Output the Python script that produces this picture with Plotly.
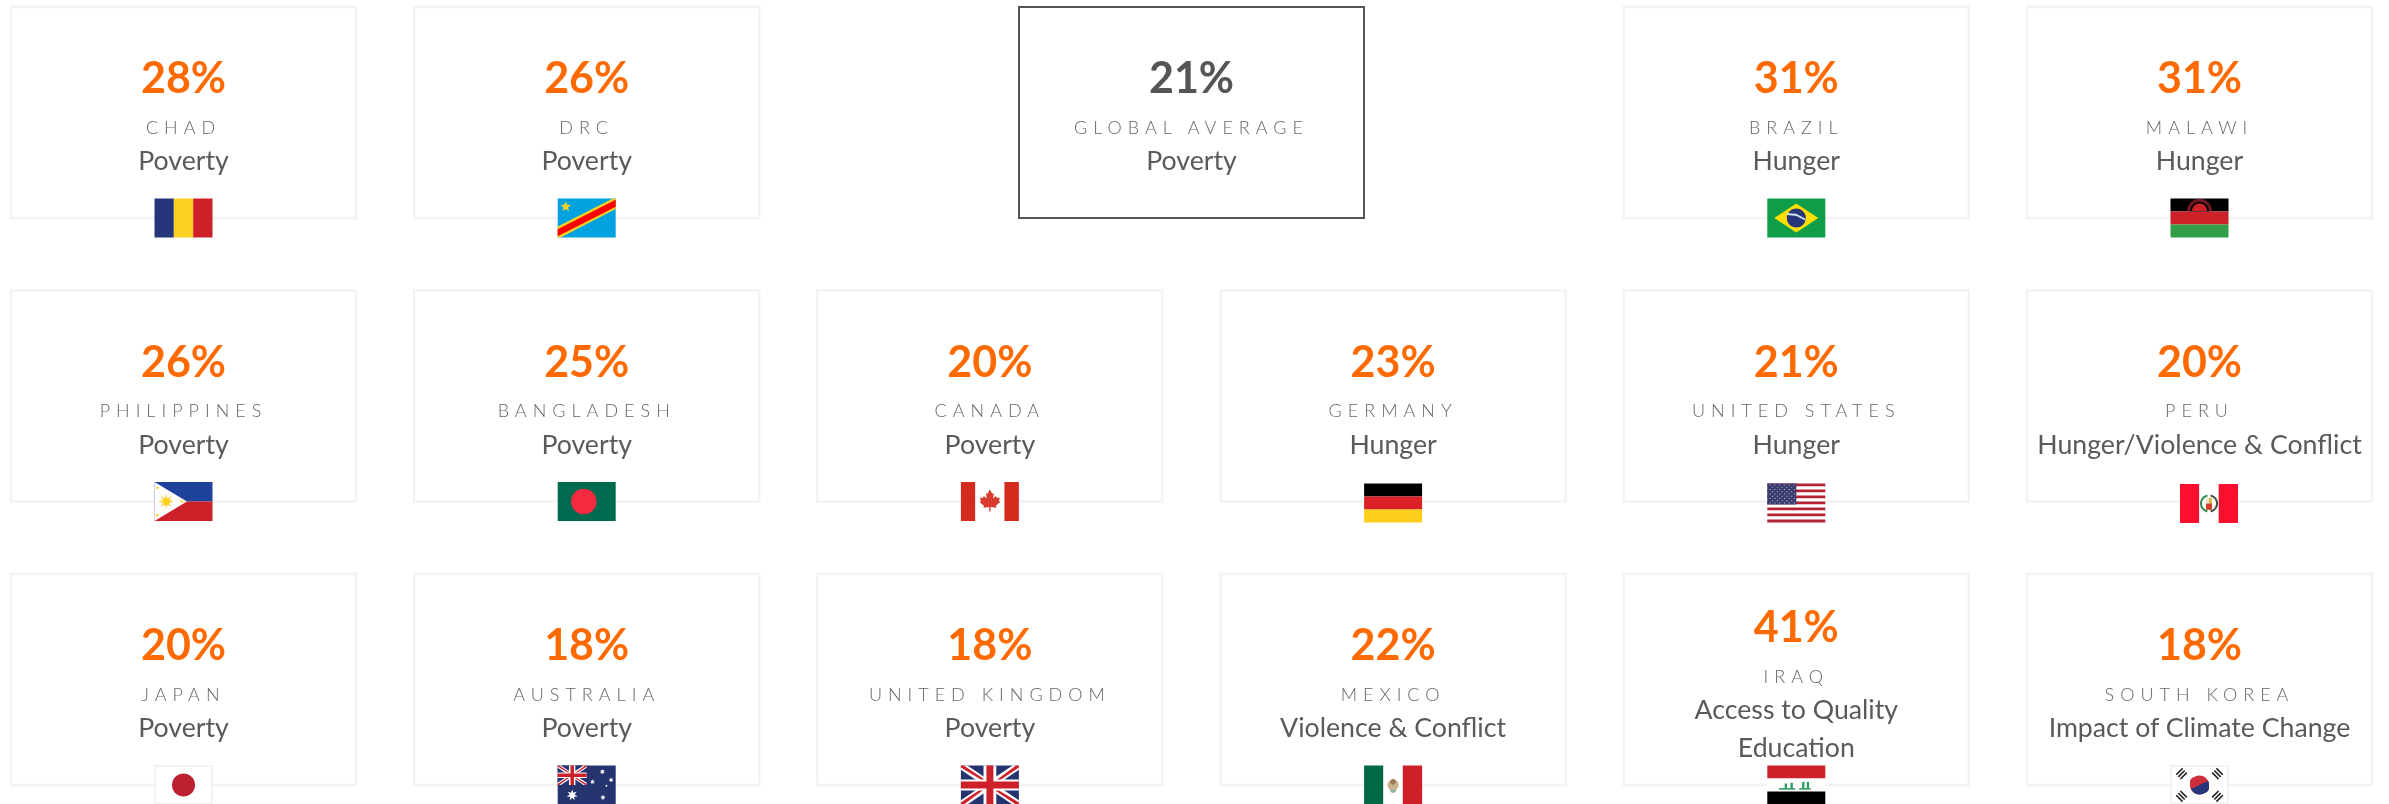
import math
import plotly.graph_objects as go

# ---------- data ----------
countries = ["CHAD", "DRC", "GLOBAL AVERAGE", "BRAZIL", "MALAWI",
             "PHILIPPINES", "BANGLADESH", "CANADA", "GERMANY", "UNITED STATES", "PERU",
             "JAPAN", "AUSTRALIA", "UNITED KINGDOM", "MEXICO", "IRAQ", "SOUTH KOREA"]
percents = [28, 26, 21, 31, 31,
            26, 25, 20, 23, 21, 20,
            20, 18, 18, 22, 41, 18]
causes = ["Poverty", "Poverty", "Poverty", "Hunger", "Hunger",
          "Poverty", "Poverty", "Poverty", "Hunger", "Hunger", "Hunger/Violence & Conflict",
          "Poverty", "Poverty", "Poverty", "Violence & Conflict",
          "Access to Quality|Education", "Impact of Climate Change"]
grid_cols = [0, 1, 2.5, 4, 5,
             0, 1, 2, 3, 4, 5,
             0, 1, 2, 3, 4, 5]
grid_rows = [0, 0, 0, 0, 0,
             1, 1, 1, 1, 1, 1,
             2, 2, 2, 2, 2, 2]

ORANGE = "#ff6a00"
DARK = "#555555"
CARD_W, CARD_H = 345, 211
COL_X, COL_STEP = 11, 403.2
ROW_Y, ROW_STEP = 7, 283.5


def left(c):
    return COL_X + c * COL_STEP


def top(r):
    return ROW_Y + r * ROW_STEP


shapes = []


def poly(pts, color, width=0):
    d = "M" + "L".join(f"{x:.2f},{y:.2f}" for x, y in pts) + "Z"
    shapes.append(dict(type="path", path=d, fillcolor=color, xref="x", yref="y",
                       line=dict(width=width, color=color), layer="above"))


class Flag:
    def __init__(self, cx, y0, w=58, h=39):
        self.x0, self.y0, self.w, self.h = cx - w / 2, y0, w, h

    def p(self, u, v):
        return (self.x0 + u * self.w, self.y0 + v * self.h)

    def rect(self, u0, v0, u1, v1, color):
        poly([self.p(u0, v0), self.p(u1, v0), self.p(u1, v1), self.p(u0, v1)], color)

    def pg(self, uv, color):
        poly([self.p(u, v) for u, v in uv], color)

    def disc(self, u, v, r, color, a0=0, a1=360, n=36):
        cx, cy = self.p(u, v)
        pts = [(cx + r * math.cos(math.radians(a0 + (a1 - a0) * i / n)),
                cy + r * math.sin(math.radians(a0 + (a1 - a0) * i / n))) for i in range(n + 1)]
        poly(pts, color)

    def star(self, u, v, r, color, n=5, inner=0.42, rot=-90):
        cx, cy = self.p(u, v)
        pts = []
        for i in range(2 * n):
            a = math.radians(rot + i * 180 / n)
            rr = r if i % 2 == 0 else r * inner
            pts.append((cx + rr * math.cos(a), cy + rr * math.sin(a)))
        poly(pts, color)

    def bars(self, colors):
        for i, c in enumerate(colors):
            self.rect(i / len(colors), 0, (i + 1) / len(colors), 1, c)

    def bands(self, colors):
        for i, c in enumerate(colors):
            self.rect(0, i / len(colors), 1, (i + 1) / len(colors), c)

    def frame(self, color="#ececec"):
        self.rect(0, 0, 1, 1, color)
        m = 1.2
        self.rect(m / self.w, m / self.h, 1 - m / self.w, 1 - m / self.h, "#ffffff")


def union_jack(f, u1=1.0, v1=1.0, navy="#25346f"):
    def P(a, b):
        return (a * u1, b * v1)
    f.rect(0, 0, u1, v1, navy)
    t = 0.11
    f.pg([P(0, 0), P(t, 0), P(1, 1 - t), P(1, 1), P(1 - t, 1), P(0, t)], "#ffffff")
    f.pg([P(1, 0), P(1, t), P(t, 1), P(0, 1), P(0, 1 - t), P(1 - t, 0)], "#ffffff")
    r = 0.05
    f.pg([P(0, 0), P(r, 0), P(0.5, 0.5 - r), P(0.5, 0.5), P(0, r)], "#ce2028")
    f.pg([P(1, 1), P(1 - r, 1), P(0.5, 0.5 + r), P(0.5, 0.5), P(1, 1 - r)], "#ce2028")
    f.pg([P(1, 0), P(1, r), P(0.5 + r, 0.5), P(0.5, 0.5), P(1 - r, 0)], "#ce2028")
    f.pg([P(0, 1), P(0, 1 - r), P(0.5 - r, 0.5), P(0.5, 0.5), P(r, 1)], "#ce2028")
    f.rect(0.39 * u1, 0, 0.61 * u1, v1, "#ffffff")
    f.rect(0, 0.36 * v1, u1, 0.64 * v1, "#ffffff")
    f.rect(0.44 * u1, 0, 0.56 * u1, v1, "#ce2028")
    f.rect(0, 0.41 * v1, u1, 0.59 * v1, "#ce2028")


def draw_chad(f):
    f.bars(["#27357a", "#fbd023", "#ce2028"])


def draw_drc(f):
    f.rect(0, 0, 1, 1, "#00a3e0")
    f.pg([(0, 0.72), (0.95, 0), (1, 0), (1, 0.27), (0.05, 1), (0, 1)], "#fbd023")
    f.pg([(0, 0.79), (1, 0.03), (1, 0.21), (0, 0.97)], "#ff0000")
    f.star(0.14, 0.21, 5.5, "#fbd023")


def draw_brazil(f):
    f.rect(0, 0, 1, 1, "#0f9d49")
    f.pg([(0.12, 0.5), (0.5, 0.13), (0.88, 0.5), (0.5, 0.87)], "#fedd00")
    f.disc(0.5, 0.5, 9.5, "#27357a")
    f.pg([(0.34, 0.37), (0.5, 0.39), (0.66, 0.52), (0.66, 0.57), (0.5, 0.45), (0.34, 0.42)], "#c8dce8")


def draw_malawi(f):
    f.bands(["#000000", "#ce2028", "#339e48"])
    f.disc(0.5, 0.33, 12.5, "#6e1a20", 180, 360)
    f.disc(0.5, 0.33, 9.5, "#000000", 180, 360)
    f.disc(0.5, 0.32, 7.5, "#ce2028", 180, 360)


def draw_philippines(f):
    f.rect(0, 0, 1, 0.5, "#1f429b")
    f.rect(0, 0.5, 1, 1, "#ce2028")
    f.pg([(0, 0), (0.56, 0.5), (0, 1)], "#ffffff")
    f.star(0.2, 0.5, 8, "#fdd663", n=8, inner=0.45)
    f.disc(0.2, 0.5, 3.6, "#fcd116")
    for u, v in [(0.05, 0.15), (0.05, 0.85), (0.47, 0.5)]:
        f.star(u, v, 2, "#fcd116")


def draw_bangladesh(f):
    f.rect(0, 0, 1, 1, "#006a4e")
    f.disc(0.45, 0.5, 12.8, "#f42a41")


def draw_canada(f):
    f.bars(["#d52b1e", "#ffffff", "#ffffff", "#d52b1e"])
    leaf = [(0, -12), (2.5, -7.5), (4, -8.5), (3.2, -3), (6, -5.5), (7, -3.5), (10, -4),
            (9, -0.5), (10.3, 0.5), (6, 4.3), (6.5, 6.3), (0.7, 5.5), (0.7, 10), (-0.7, 10),
            (-0.7, 5.5), (-6.5, 6.3), (-6, 4.3), (-10.3, 0.5), (-9, -0.5), (-10, -4), (-7, -3.5),
            (-6, -5.5), (-3.2, -3), (-4, -8.5), (-2.5, -7.5)]
    cx, cy = f.p(0.5, 0.5)
    poly([(cx + a, cy + b) for a, b in leaf], "#d83a2f")


def draw_germany(f):
    f.bands(["#000000", "#dd1f26", "#ffce1a"])


def draw_usa(f):
    for i in range(13):
        f.rect(0, i / 13, 1, (i + 1) / 13, "#b22234" if i % 2 == 0 else "#ffffff")
    f.rect(0, 0, 0.5, 7 / 13, "#3c3b6e")
    for r in range(9):
        for c in range(6 if r % 2 == 0 else 5):
            u = 0.04 + (c + (0 if r % 2 == 0 else 0.5)) * 0.083
            v = 0.03 + r * 0.057
            f.rect(u, v, u + 0.016, v + 0.024, "#cfd0e0")


def draw_peru(f):
    f.bars(["#fb0f2e", "#ffffff", "#fb0f2e"])
    f.disc(0.5, 0.5, 9, "#2f8a4a", 100, 260)
    f.disc(0.5, 0.5, 7, "#ffffff", 100, 260)
    f.disc(0.5, 0.5, 9, "#3b5a3a", -80, 80)
    f.disc(0.5, 0.5, 7, "#ffffff", -80, 80)
    f.rect(0.45, 0.36, 0.55, 0.66, "#e2b24a")
    f.rect(0.45, 0.5, 0.55, 0.66, "#d23a2a")
    f.rect(0.45, 0.36, 0.5, 0.5, "#e9e3d0")


def draw_japan(f):
    f.frame()
    f.disc(0.5, 0.5, 11.5, "#bc1f30")


def draw_australia(f):
    f.rect(0, 0, 1, 1, "#25346f")
    union_jack(f, 0.5, 0.5)
    f.star(0.25, 0.76, 5.6, "#ffffff", n=7, inner=0.45)
    for u, v, r in [(0.77, 0.16, 2.8), (0.6, 0.42, 2.6), (0.92, 0.37, 2.6), (0.84, 0.52, 1.4), (0.78, 0.82, 2.8)]:
        f.star(u, v, r, "#ffffff", n=7, inner=0.45)


def draw_uk(f):
    union_jack(f)


def draw_mexico(f):
    f.bars(["#006847", "#ffffff", "#ce2028"])
    f.disc(0.5, 0.5, 5.6, "#c9b48f")
    f.disc(0.5, 0.42, 2.8, "#9c7a55")
    f.disc(0.5, 0.62, 3.2, "#8fb8a4", 0, 180)


def draw_iraq(f):
    f.bands(["#ce2028", "#ffffff", "#000000"])
    for u0, u1, v0 in [(0.2, 0.48, 0.58), (0.55, 0.75, 0.58), (0.6, 0.64, 0.42), (0.68, 0.72, 0.42), (0.3, 0.34, 0.46), (0.4, 0.44, 0.44)]:
        f.rect(u0, v0, u1, 0.62 if v0 > 0.5 else 0.6, "#2e9a62")


def draw_korea(f):
    f.frame()
    f.disc(0.5, 0.5, 9.5, "#cd2e3a")
    f.disc(0.5, 0.5, 9.5, "#27357a", -25, 155)
    f.disc(0.42, 0.42, 4.8, "#cd2e3a", 0, 360, 24)
    f.disc(0.58, 0.58, 4.8, "#27357a", 0, 360, 24)
    for (u, v, ang) in [(0.19, 0.21, -45), (0.81, 0.21, 45), (0.19, 0.79, 45), (0.81, 0.79, -45)]:
        cx, cy = f.p(u, v)
        a = math.radians(ang)
        dx, dy = math.cos(a), math.sin(a)
        for off in (-3, 0, 3):
            ox, oy = -dy * off, dx * off
            L, W = 4.5, 0.8
            poly([(cx + ox - dx * L - (-dy) * W, cy + oy - dy * L - dx * W),
                  (cx + ox + dx * L - (-dy) * W, cy + oy + dy * L - dx * W),
                  (cx + ox + dx * L + (-dy) * W, cy + oy + dy * L + dx * W),
                  (cx + ox - dx * L + (-dy) * W, cy + oy - dy * L + dx * W)], "#222222")


FLAGS = {"CHAD": draw_chad, "DRC": draw_drc, "BRAZIL": draw_brazil, "MALAWI": draw_malawi,
         "PHILIPPINES": draw_philippines, "BANGLADESH": draw_bangladesh, "CANADA": draw_canada,
         "GERMANY": draw_germany, "UNITED STATES": draw_usa, "PERU": draw_peru, "JAPAN": draw_japan,
         "AUSTRALIA": draw_australia, "UNITED KINGDOM": draw_uk, "MEXICO": draw_mexico,
         "IRAQ": draw_iraq, "SOUTH KOREA": draw_korea}
FLAG_SHIFT = {"PERU": (9.5, 2), "GERMANY": (0, 1.5), "UNITED STATES": (0, 1.5)}

pct_x, pct_y, pct_t, pct_c = [], [], [], []
name_x, name_y, name_t = [], [], []
cause_x, cause_y, cause_t = [], [], []

for name, pct, cause, c, r in zip(countries, percents, causes, grid_cols, grid_rows):
    x0, y0 = left(c), top(r)
    cx = x0 + CARD_W / 2
    is_global = name == "GLOBAL AVERAGE"
    shapes.append(dict(type="rect", xref="x", yref="y", x0=x0, x1=x0 + CARD_W, y0=y0, y1=y0 + CARD_H,
                       line=dict(width=2 if is_global else 2.5, color=DARK if is_global else "#f3f3f3"),
                       fillcolor="rgba(0,0,0,0)", layer="below"))
    lines = cause.split("|")
    shift = -18 if len(lines) > 1 else 0
    pct_x.append(cx); pct_y.append(y0 + 75.5 + shift); pct_t.append(f"{pct}%")
    pct_c.append(DARK if is_global else ORANGE)
    name_x.append(cx); name_y.append(y0 + 122 + shift); name_t.append(name)
    for i, ln in enumerate(lines):
        cause_x.append(cx); cause_y.append(y0 + 156.7 + shift + i * 38); cause_t.append(ln)
    if name in FLAGS:
        dx, dy = FLAG_SHIFT.get(name, (0, 0))
        FLAGS[name](Flag(cx + dx, y0 + 191.5 + dy))

fig = go.Figure()
fig.add_trace(go.Scatter(x=pct_x, y=pct_y, text=pct_t, mode="text", hoverinfo="skip",
                         textposition="middle center",
                         textfont=dict(family="Lato", size=43, weight=700, color=pct_c)))
fig.add_trace(go.Scatter(x=name_x, y=name_y, text=name_t, mode="text", hoverinfo="skip",
                         textposition="middle center",
                         textfont=dict(family="Lato", size=18, weight=300, color="#666666")))
fig.add_trace(go.Scatter(x=cause_x, y=cause_y, text=cause_t, mode="text", hoverinfo="skip",
                         textposition="middle center",
                         textfont=dict(family="Lato", size=26.7, weight=400, color="#5a5a5a")))

fig.update_layout(width=2389, height=804, margin=dict(l=0, r=0, t=0, b=0),
                  paper_bgcolor="#ffffff", plot_bgcolor="#ffffff", showlegend=False,
                  shapes=shapes,
                  xaxis=dict(range=[0, 2389], visible=False, fixedrange=True),
                  yaxis=dict(range=[804, 0], visible=False, fixedrange=True))

# no page margin, greyscale text smoothing, and wide tracking on the country names
post = """
document.body.style.margin='0';
document.documentElement.style.overflow='hidden';
document.querySelectorAll('.main-svg').forEach(function(s){
  s.style.background='transparent';
  s.style.willChange='transform';
});
document.querySelectorAll('.scatterlayer .trace:nth-child(2) text').forEach(function(t){
  t.style.letterSpacing='6px';
});
"""
fig.write_html("out.html", config={"displayModeBar": False}, post_script=post,
               default_width="2389px", default_height="804px")
